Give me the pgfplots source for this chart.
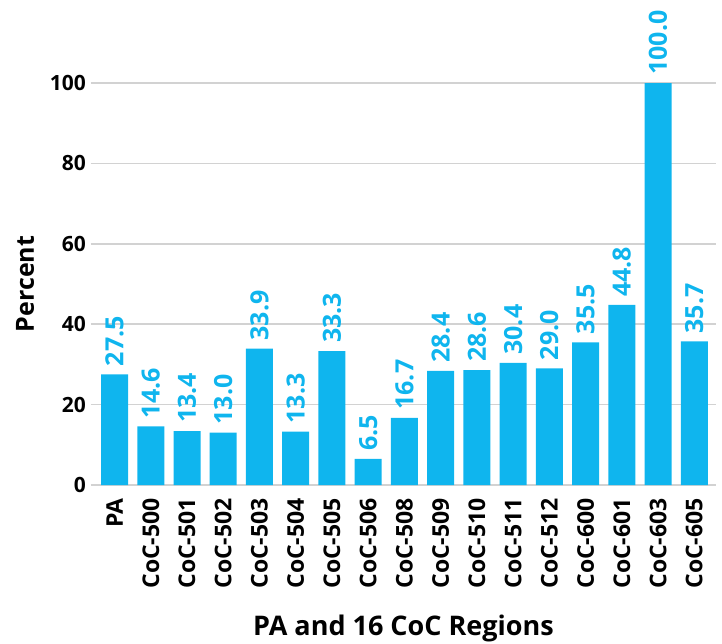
\documentclass[border=0pt]{standalone}
\usepackage{pgfplots}
\pgfplotsset{compat=1.18}
\usepackage{fontspec}
\setmainfont{Open Sans}
\definecolor{barc}{HTML}{0FB5EE}
\definecolor{gridc}{HTML}{D2D2D2}
\begin{document}
\begin{tikzpicture}
\begin{axis}[
  scale only axis,
  width=625pt, height=402pt,
  xmin=-0.65, xmax=16.6,
  ymin=0, ymax=100,
  clip=false,
  axis line style={draw=none},
  tick style={draw=none},
  ytick={0,20,40,60,80,100},
  ymajorgrids,
  grid style={gridc, line width=1.5pt},
  xtick=data,
  xticklabels={PA,CoC-500,CoC-501,CoC-502,CoC-503,CoC-504,CoC-505,CoC-506,CoC-508,CoC-509,CoC-510,CoC-511,CoC-512,CoC-600,CoC-601,CoC-603,CoC-605},
  x tick label style={rotate=90, anchor=east, font=\bfseries\fontsize{23}{26}\selectfont, inner sep=0pt, xshift=-13pt},
  y tick label style={font=\bfseries\fontsize{21}{24}\selectfont, inner sep=0pt, xshift=-5pt},
  /pgf/number format/assume math mode=true,
  xlabel={PA and 16 CoC Regions},
  ylabel={Percent},
  xlabel style={font=\bfseries\fontsize{27}{30}\selectfont, at={(rel axis cs:0.5,0)}, anchor=base, yshift=-150pt},
  ylabel style={font=\bfseries\fontsize{25}{30}\selectfont, at={(rel axis cs:0,0.5)}, anchor=center, yshift=66pt},
  nodes near coords,
  nodes near coords style={rotate=90, anchor=west, inner sep=0pt, inner xsep=8pt, text=barc, font=\bfseries\fontsize{25}{28}\selectfont, /pgf/number format/.cd, fixed, fixed zerofill, precision=1},
]
\addplot[ybar, bar width=27pt, fill=barc, draw=none] coordinates {
(0,27.5) (1,14.6) (2,13.4) (3,13.0) (4,33.9) (5,13.3) (6,33.3) (7,6.5) (8,16.7) (9,28.4) (10,28.6) (11,30.4) (12,29.0) (13,35.5) (14,44.8) (15,100.0) (16,35.7)
};
\coordinate (ll) at (rel axis cs:0,0);
\coordinate (ur) at (rel axis cs:1,1);
\end{axis}
\pgfresetboundingbox
\path ([shift={(-91pt,-158pt)}]ll) rectangle ([shift={(6pt,83pt)}]ur);
\end{tikzpicture}
\end{document}
